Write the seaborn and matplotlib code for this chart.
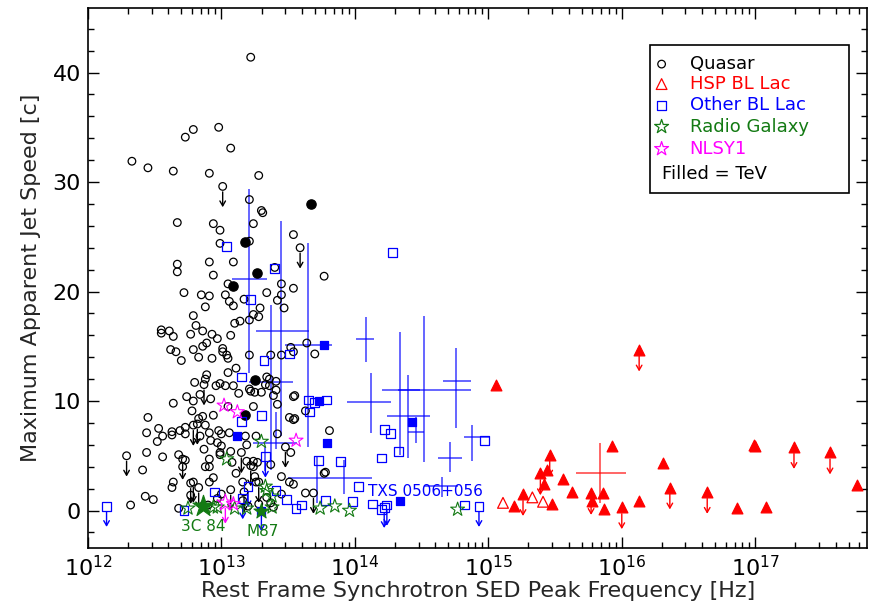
import numpy as np
import pandas as pd
import matplotlib
matplotlib.use("Agg")
import matplotlib.pyplot as plt
import seaborn as sns
from matplotlib.ticker import MultipleLocator
from matplotlib.patches import Rectangle

# log10 of rest-frame synchrotron peak frequency [Hz] and max apparent speed [c]
quasar_lognu = [
    13.22, 12.73, 12.79, 12.98, 13.07, 12.33, 12.45, 12.64, 12.91, 13.28,
    13.21, 13.30, 13.31, 12.67, 12.94, 12.99, 13.24, 13.54, 12.99, 13.21,
    12.67, 12.67, 12.91, 13.09, 12.94, 13.40, 13.77, 13.05, 13.45, 13.54,
    12.72, 12.85, 12.91, 13.03, 13.34, 13.45, 13.06, 13.09, 13.17, 13.42,
    12.88, 13.29, 13.47, 12.79, 13.10, 13.14, 13.21, 13.24, 13.28, 12.81,
    12.55, 12.55, 12.61, 12.64, 12.77, 12.86, 12.93, 12.97, 13.07, 12.89,
    12.86, 12.62, 12.66, 12.70, 12.79, 12.83, 12.93, 13.01, 13.01, 13.04,
    13.05, 13.21, 13.37, 13.45, 13.52, 13.54, 13.64, 13.70, 13.11, 13.05,
    12.89, 12.88, 12.80, 12.96, 12.99, 13.03, 13.09, 13.34, 13.36, 13.41,
    13.21, 13.22, 13.25, 13.30, 13.33, 13.36, 13.41, 13.39, 13.13, 12.84,
    12.74, 12.79, 12.92, 12.64, 12.78, 12.83, 12.86, 12.94, 12.45, 13.24,
    13.42, 13.55, 13.51, 13.54, 13.55, 13.63, 13.81, 13.77, 13.54, 12.44,
    12.53, 12.56, 12.52, 12.63, 12.63, 12.69, 12.73, 12.73, 12.88, 12.84,
    12.91, 12.98, 13.00, 13.06, 12.92, 12.97, 13.00, 13.18, 13.26, 13.19,
    13.42, 13.52, 12.44, 12.41, 12.56, 12.68, 12.73, 12.71, 12.91, 12.88,
    12.91, 12.99, 12.99, 13.07, 13.08, 13.19, 13.24, 13.24, 13.27, 13.37,
    13.45, 13.51, 13.54, 13.78, 12.64, 12.63, 12.91, 12.94, 12.77, 13.16,
    13.25, 13.26, 12.43, 12.49, 12.32, 12.68, 13.00, 13.34, 13.37, 13.39,
    13.45, 13.63, 13.05, 12.87, 13.11, 13.16, 13.20, 12.90, 12.97, 13.28,
]
quasar_beta = [
    41.4, 34.1, 34.8, 35.0, 33.1, 31.9, 31.3, 31.0, 30.8, 30.6,
    28.4, 27.4, 27.2, 26.3, 26.2, 25.6, 26.2, 25.2, 24.4, 24.6,
    22.5, 21.8, 22.7, 22.7, 21.5, 22.2, 21.4, 20.7, 20.7, 20.3,
    19.9, 19.7, 19.6, 19.7, 19.9, 19.7, 19.1, 18.7, 19.3, 19.2,
    18.6, 18.5, 18.5, 17.8, 17.1, 17.3, 17.4, 17.9, 17.7, 16.9,
    16.5, 16.2, 16.4, 15.9, 16.1, 16.4, 16.1, 15.7, 16.0, 15.3,
    15.0, 14.7, 14.5, 13.7, 14.7, 14.0, 13.9, 14.8, 14.5, 14.2,
    13.9, 14.2, 14.2, 14.2, 14.9, 14.5, 15.3, 14.3, 13.0, 12.6,
    12.4, 12.0, 11.7, 11.4, 11.6, 11.4, 11.4, 12.2, 12.0, 11.8,
    11.1, 10.9, 10.8, 10.8, 11.5, 11.4, 11.0, 10.5, 10.7, 10.6,
    10.4, 10.0, 10.2, 9.8, 9.1, 8.4, 8.6, 8.7, 8.5, 9.5,
    9.7, 10.5, 8.5, 8.3, 8.4, 9.1, 7.3, 3.4, 10.4, 7.1,
    7.5, 6.8, 6.3, 7.2, 6.9, 7.3, 7.6, 7.0, 7.8, 6.8,
    7.1, 7.3, 7.0, 7.1, 6.4, 6.2, 5.9, 6.8, 6.8, 6.0,
    7.0, 5.3, 5.3, 3.7, 4.9, 5.1, 4.6, 4.0, 4.7, 4.0,
    4.0, 5.3, 5.1, 5.4, 4.4, 4.5, 4.5, 4.0, 4.4, 4.2,
    3.1, 2.6, 2.4, 3.5, 2.6, 2.1, 2.6, 3.0, 1.4, 2.6,
    3.1, 2.6, 1.3, 1.0, 0.5, 0.2, 1.5, 1.2, 0.7, 0.3,
    1.5, 1.6, 9.5, 5.6, 3.4, 0.9, 0.4, 0.5, 1.1, 0.6,
]
quasar_ul_lognu = [13.01, 13.59, 12.87, 12.29, 12.71, 12.79, 12.82, 13.15, 13.48,
                   12.77, 12.79, 12.83, 13.07, 13.17, 13.28, 13.69, 13.22]
quasar_ul_beta = [29.6, 24.0, 11.5, 5.0, 4.7, 7.8, 7.9, 5.3, 5.8,
                  2.5, 2.6, 2.1, 1.9, 1.7, 2.6, 1.6, 4.1]
quasar_tev_lognu = [13.67, 13.18, 13.27, 13.09, 13.25, 13.18]
quasar_tev_beta = [28.0, 24.5, 21.7, 20.5, 11.9, 8.7]

hsp_tev_lognu = [15.06, 15.93, 15.44, 15.42, 15.56, 15.19, 15.48, 15.63, 15.78,
                 15.86, 15.87, 16.13, 16.31, 16.86, 16.99, 17.00, 17.08, 17.76]
hsp_tev_beta = [11.5, 5.9, 3.7, 2.4, 2.9, 0.4, 0.6, 1.7, 0.9,
                1.6, 0.1, 0.9, 4.3, 0.2, 6.0, 5.9, 0.3, 2.3]
hsp_tev_ul_lognu = [16.13, 15.46, 15.39, 15.26, 15.77, 16.00, 16.36, 16.64, 17.29, 17.56]
hsp_tev_ul_beta = [14.7, 5.1, 3.4, 1.5, 1.6, 0.3, 2.1, 1.7, 5.8, 5.3]
hsp_lognu = [15.11, 15.33, 15.41]
hsp_beta = [0.7, 1.2, 0.8]

bll_lognu = [13.04, 13.40, 14.28, 13.22, 13.32, 13.15, 13.30, 13.15, 13.51, 13.65,
             13.70, 13.79, 13.66, 13.73, 13.89, 14.20, 14.22, 14.27, 14.03, 14.33,
             14.97, 12.95, 13.41, 13.49, 13.56, 13.60, 12.72, 13.78, 13.98, 14.13,
             14.20, 14.82]
bll_beta = [24.1, 22.1, 23.6, 19.3, 13.7, 12.2, 8.7, 8.1, 14.3, 10.1,
            9.9, 10.1, 9.0, 4.6, 4.5, 4.8, 7.4, 7.0, 2.2, 5.4,
            6.4, 1.7, 1.8, 1.0, 0.2, 0.5, 0.0, 0.9, 0.8, 0.6,
            0.1, 0.5]
bll_ul_lognu = [12.14, 13.20, 13.16, 13.33, 14.22, 14.24, 14.93]
bll_ul_beta = [0.4, 2.2, 1.1, 4.9, 0.3, 0.5, 0.4]
bll_tev_lognu = [13.77, 13.73, 13.79, 13.12, 14.43, 14.34]
bll_tev_beta = [15.1, 10.0, 6.2, 6.8, 8.1, 0.9]
bll_tev_ul_lognu = [13.30]
bll_tev_ul_beta = [0.0]

rg_lognu = [13.30, 13.04, 13.33, 13.34, 13.38, 12.75, 12.94, 12.97, 13.10, 13.19,
            13.38, 13.74, 13.85, 13.96, 14.77]
rg_beta = [6.3, 4.7, 2.2, 1.8, 1.3, 0.2, 0.3, 0.3, 0.2, 0.2,
           0.3, 0.2, 0.4, 0.0, 0.1]
rg_tev_lognu = [12.86, 13.30]
rg_tev_beta = [0.4, 0.0]

nlsy1_lognu = [13.02, 13.12, 13.56, 13.09]
nlsy1_beta = [9.6, 9.0, 6.4, 0.6]
nlsy1_ul_lognu = [13.03]
nlsy1_ul_beta = [0.7]

# error bars: centre, frequency range, speed range
bar_lognu = [13.21, 13.45, 13.65, 13.37, 13.41, 13.72, 13.92, 14.08, 14.12, 14.34,
             14.40, 14.52, 14.46, 14.76, 14.71, 14.65, 14.88, 13.33]
bar_beta = [21.1, 16.4, 15.1, 11.7, 6.2, 3.0, 3.0, 15.7, 9.9, 11.0,
            8.6, 11.0, 7.2, 11.8, 4.8, 2.2, 6.7, 4.7]
bar_lognu_lo = [13.08, 13.26, 13.48, 13.21, 13.24, 13.50, 13.92, 14.01, 13.94, 14.20,
                14.24, 14.32, 14.40, 14.66, 14.62, 14.52, 14.82, 13.33]
bar_lognu_hi = [13.34, 13.66, 13.83, 13.54, 13.57, 14.13, 13.92, 14.14, 14.27, 14.49,
                14.56, 14.87, 14.52, 14.87, 14.80, 14.77, 15.01, 13.33]
bar_beta_lo = [12.6, 6.8, 5.8, 3.7, 5.6, 0.7, 1.5, 13.6, 7.1, 5.1,
               4.8, 4.4, 6.2, 7.5, 3.5, 1.2, 4.5, 3.6]
bar_beta_hi = [29.4, 26.4, 24.4, 18.8, 9.0, 4.9, 4.6, 17.7, 12.6, 16.3,
               12.4, 17.8, 8.5, 14.8, 6.3, 3.1, 7.8, 5.8]
red_bar = dict(lognu=15.84, beta=3.4, lo=15.66, hi=16.03, blo=0.7, bhi=6.2)

BLUE = "#0000ff"
RED = "#ff0000"
GREEN = "#137a13"
MAGENTA = "#ff00ff"

sns.set_style("ticks")
plt.rcParams["font.family"] = ["DejaVu Sans"]
plt.rcParams["mathtext.default"] = "regular"

fig = plt.figure(figsize=(8.7, 6.12), dpi=100)
ax = fig.add_axes([0.101, 0.105, 0.896, 0.882])
ax.set_xscale("log")


def pts(lognu, beta, marker, color, s, filled, lw=0.9, z=3):
    d = pd.DataFrame({"nu": np.power(10.0, lognu), "beta": beta})
    sns.scatterplot(data=d, x="nu", y="beta", marker=marker, color=color, s=s,
                    linewidth=lw, ax=ax, zorder=z, legend=False)
    coll = ax.collections[-1]
    if not filled:
        coll.set_facecolor("none")
    coll.set_edgecolor(color)


def arrows(lognu, beta, color, start=0.5, length=1.4):
    for x, y in zip(lognu, beta):
        ax.annotate("", xy=(10 ** x, y - start - length), xytext=(10 ** x, y - start),
                    arrowprops=dict(arrowstyle="->,head_length=0.35,head_width=0.2",
                                    color=color, lw=1.0, shrinkA=0, shrinkB=0),
                    zorder=2)


# error bars
bx = np.power(10.0, bar_lognu)
ax.errorbar(bx, bar_beta,
            xerr=[bx - np.power(10.0, bar_lognu_lo), np.power(10.0, bar_lognu_hi) - bx],
            yerr=[np.array(bar_beta) - np.array(bar_beta_lo),
                  np.array(bar_beta_hi) - np.array(bar_beta)],
            fmt="none", ecolor=BLUE, elinewidth=1.3, alpha=0.65, capsize=0, zorder=1)
rx = 10 ** red_bar["lognu"]
ax.errorbar([rx], [red_bar["beta"]],
            xerr=[[rx - 10 ** red_bar["lo"]], [10 ** red_bar["hi"] - rx]],
            yerr=[[red_bar["beta"] - red_bar["blo"]], [red_bar["bhi"] - red_bar["beta"]]],
            fmt="none", ecolor=RED, elinewidth=1.3, alpha=0.65, capsize=0, zorder=1)

# quasars
pts(quasar_lognu, quasar_beta, "o", "black", 30, False)
pts(quasar_ul_lognu, quasar_ul_beta, "o", "black", 30, False)
arrows(quasar_ul_lognu, quasar_ul_beta, "black")
pts(quasar_tev_lognu, quasar_tev_beta, "o", "black", 45, True)

# other BL Lacs
pts(bll_lognu, bll_beta, "s", BLUE, 40, False)
pts(bll_ul_lognu, bll_ul_beta, "s", BLUE, 40, False)
arrows(bll_ul_lognu, bll_ul_beta, BLUE)
pts(bll_tev_lognu, bll_tev_beta, "s", BLUE, 40, True)
pts(bll_tev_ul_lognu, bll_tev_ul_beta, "s", BLUE, 40, True)
arrows(bll_tev_ul_lognu, bll_tev_ul_beta, BLUE)

# HSP BL Lacs
pts(hsp_lognu, hsp_beta, "^", RED, 60, False)
pts(hsp_tev_lognu, hsp_tev_beta, "^", RED, 60, True)
pts(hsp_tev_ul_lognu, hsp_tev_ul_beta, "^", RED, 60, True)
arrows(hsp_tev_ul_lognu, hsp_tev_ul_beta, RED, start=0.6)

# radio galaxies
pts(rg_lognu, rg_beta, "*", GREEN, 110, False, lw=0.8)
pts(rg_tev_lognu[:1], rg_tev_beta[:1], "*", GREEN, 260, True, lw=0.8)
pts(rg_tev_lognu[1:], rg_tev_beta[1:], "*", GREEN, 130, True, lw=0.8)

# NLSY1
pts(nlsy1_lognu, nlsy1_beta, "*", MAGENTA, 110, False, lw=0.8)
pts(nlsy1_ul_lognu, nlsy1_ul_beta, "*", MAGENTA, 160, False, lw=0.8)
arrows(nlsy1_ul_lognu, nlsy1_ul_beta, MAGENTA)

# source labels
ax.text(10 ** 12.70, -1.5, "3C 84", color=GREEN, fontsize=11, va="center", ha="left")
ax.text(10 ** 13.19, -1.9, "M87", color=GREEN, fontsize=11, va="center", ha="left")
ax.text(10 ** 14.10, 1.7, "TXS 0506+056", color=BLUE, fontsize=11, va="center", ha="left")

ax.set_xlim(1e12, 10 ** 17.84)
ax.set_ylim(-3.4, 45.9)
ax.yaxis.set_major_locator(MultipleLocator(10))
ax.yaxis.set_minor_locator(MultipleLocator(2))
ax.tick_params(which="both", direction="in", top=True, right=True, width=1.0,
               colors="black", labelsize=16)
ax.tick_params(which="major", length=8, pad=5)
ax.tick_params(which="minor", length=4)
for sp in ax.spines.values():
    sp.set_linewidth(1.2)
    sp.set_color("black")
ax.set_xlabel("Rest Frame Synchrotron SED Peak Frequency [Hz]", fontsize=16, labelpad=1)
ax.set_ylabel("Maximum Apparent Jet Speed [c]", fontsize=16, labelpad=8)

# legend box
T = ax.transAxes
ax.add_patch(Rectangle((0.7205, 0.657), 0.2565, 0.2745, transform=T, fill=False,
                       edgecolor="black", lw=1.2, zorder=5))
legend_rows = [
    ("Quasar", "black", "o", False, 30),
    ("HSP BL Lac", RED, "^", False, 60),
    ("Other BL Lac", BLUE, "s", False, 40),
    ("Radio Galaxy", GREEN, "*", False, 110),
    ("NLSY1", MAGENTA, "*", False, 110),
]
row_y = [0.896, 0.859, 0.820, 0.780, 0.739]
for (lab, col, mk, filled, s), yy in zip(legend_rows, row_y):
    ax.scatter([0.736], [yy], transform=T, marker=mk, s=s,
               facecolor=col if filled else "none", edgecolor=col, lw=0.9, zorder=6)
    ax.text(0.772, yy, lab, transform=T, color=col, fontsize=13, va="center", ha="left")
ax.text(0.737, 0.693, "Filled = TeV", transform=T, color="black", fontsize=13,
        va="center", ha="left")

fig.savefig("out.png", dpi=100)
